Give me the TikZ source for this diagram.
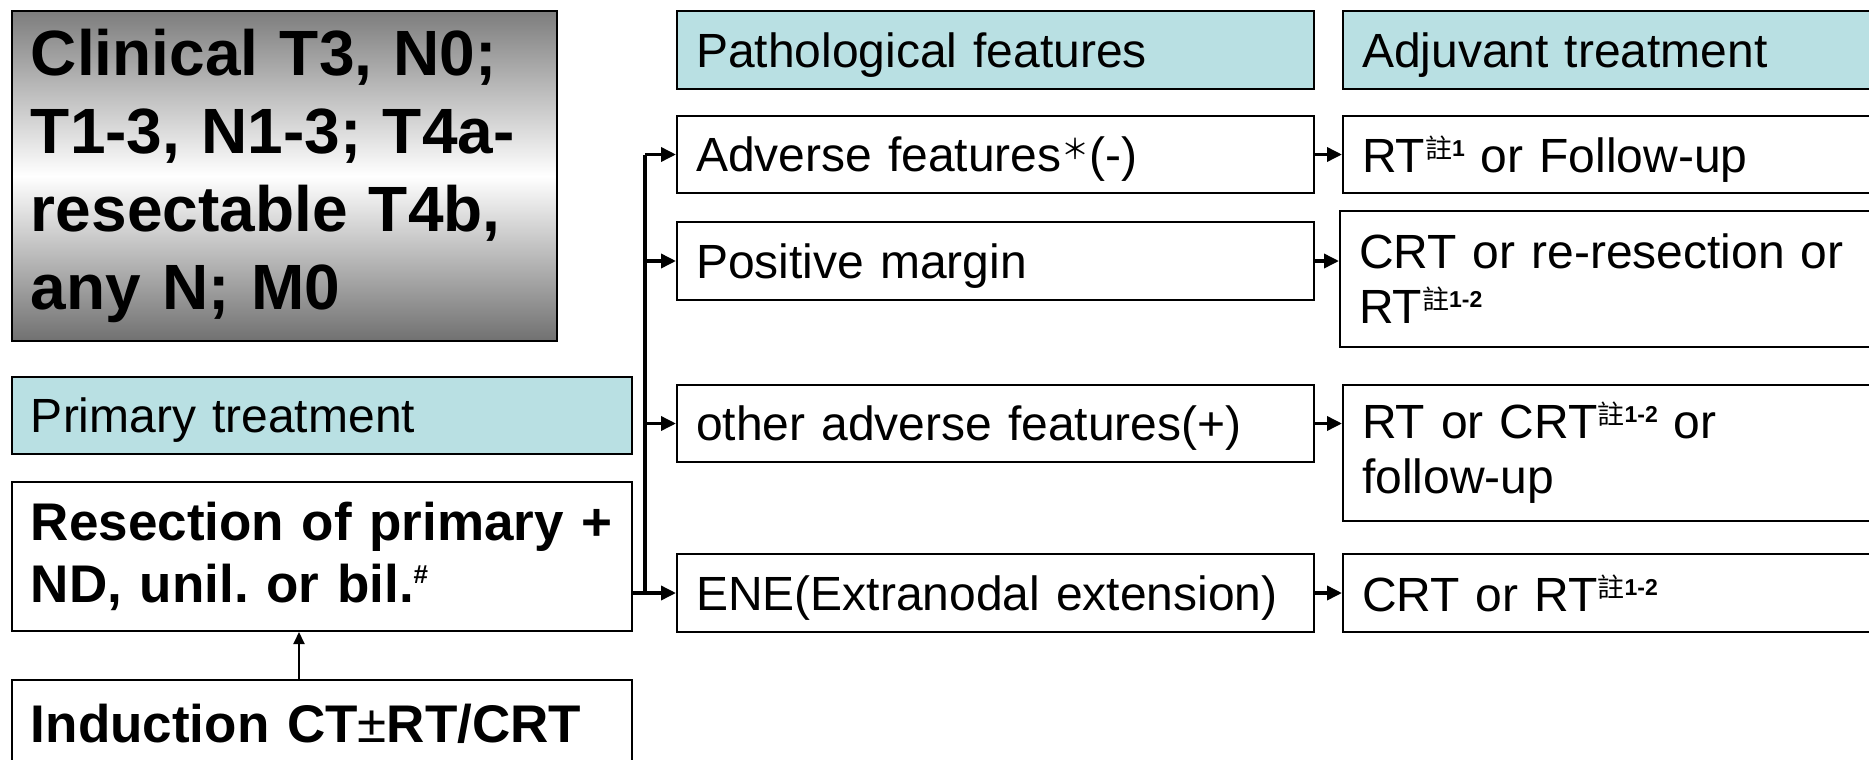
\documentclass[tikz,border=0pt]{standalone}
\usepackage{fontspec}
\setmainfont{Liberation Sans}
\newfontfamily\cjk{Noto Sans CJK TC}
\usetikzlibrary{arrows.meta}
\frenchspacing
\definecolor{hdrcyan}{RGB}{185,224,227}
\definecolor{darkgrey}{RGB}{125,125,125}
\newcommand{\zhu}[1]{\raisebox{7pt}{\cjk\fontsize{13.5}{13.5}\selectfont 註}\raisebox{8pt}{\fontsize{11.5}{12}\selectfont\bfseries #1}}
\newcommand{\supmark}[1]{\raisebox{9.5pt}{\fontsize{13}{13}\selectfont #1}}
\newcommand{\advstar}{\raisebox{6pt}{\cjk\fontsize{14}{14}\selectfont ＊}}
\tikzset{
  cell/.style={draw, line width=1pt, inner xsep=9.5pt, inner ysep=0pt, align=left,
    font=\fontsize{24}{27.5}\selectfont},
  flat/.style={text depth=0pt},
  hdr/.style={cell, flat, fill=hdrcyan},
  big/.style={font=\fontsize{26.5}{31}\selectfont\bfseries},
  link/.style={line width=1.75pt, ->}
}
\begin{document}
\begin{tikzpicture}[x=0.5pt,y=-0.5pt,>={Triangle[length=7.5pt,width=7pt]}]
\useasboundingbox (0,0) rectangle (1869,760);
% left column
\node[cell, top color=darkgrey, bottom color=darkgrey!90!black, middle color=white,
  minimum width=272.5pt, minimum height=165pt, text width=253.5pt,
  font=\fontsize{32}{39}\selectfont\bfseries] (clin) at (284.5,176)
  {Clinical T3, N0;\\ T1-3, N1-3; T4a-\\ resectable T4b,\\ any N; M0};
\node[hdr, minimum width=310pt, minimum height=38.5pt, text width=291pt] (prim) at (322,415.5) {Primary treatment};
\node[cell, big, minimum width=310pt, minimum height=74.5pt, text width=291pt] (resect) at (322,556.5)
  {Resection of primary +\\ ND, unil. or bil.\supmark{\#}};
\node[cell, flat, big, minimum width=310pt, minimum height=43pt, text width=291pt] (induct) at (322,723)
  {Induction CT{\mdseries ±}RT/CRT};
% middle column
\node[hdr, minimum width=318.5pt, minimum height=39pt, text width=299.5pt] (path) at (995.5,50) {Pathological features};
\node[cell, flat, minimum width=318.5pt, minimum height=38.5pt, text width=299.5pt] (adv) at (995.5,154.5) {Adverse features\advstar(-)};
\node[cell, flat, minimum width=318.5pt, minimum height=39pt, text width=299.5pt] (pos) at (995.5,261) {Positive margin};
\node[cell, flat, minimum width=318.5pt, minimum height=38.5pt, text width=299.5pt] (oth) at (995.5,423.5) {other adverse features(+)};
\node[cell, flat, minimum width=318.5pt, minimum height=39pt, text width=299.5pt] (ene) at (995.5,593) {ENE(Extranodal extension)};
% right column
\node[hdr, minimum width=271pt, minimum height=39pt, text width=252pt] (adj) at (1614,50) {Adjuvant treatment};
\node[cell, flat, minimum width=271pt, minimum height=38.5pt, text width=252pt] (rt1) at (1614,154.5) {RT\zhu{1} or Follow-up};
\node[cell, minimum width=272.5pt, minimum height=68pt, text width=253.5pt] (crt1) at (1612.5,279)
  {CRT or re-resection or\\ RT\zhu{1-2}};
\node[cell, minimum width=271pt, minimum height=68pt, text width=252pt] (rt2) at (1614,453)
  {RT or CRT\zhu{1-2} or\\ follow-up};
\node[cell, flat, minimum width=271pt, minimum height=39pt, text width=252pt] (crt2) at (1614,593) {CRT or RT\zhu{1-2}};
% connectors
\coordinate (tk) at (645,0);
\draw[-{Triangle[length=6pt,width=5.5pt]}, line width=1pt] ([xshift=-11.5pt]induct.north) -- ([xshift=-11.5pt]resect.south);
\draw[link] (resect.east |- ene.west) -- (ene.west);
\draw[line width=1.75pt] (tk |- adv.west) -- (tk |- ene.west);
\foreach \n in {adv,pos,oth}
  \draw[link] (tk |- \n.west) -- (\n.west);
\foreach \a/\b in {adv/rt1,pos/crt1,oth/rt2,ene/crt2}
  \draw[link] (\a.east) -- (\a.east -| \b.west);
\end{tikzpicture}
\end{document}
